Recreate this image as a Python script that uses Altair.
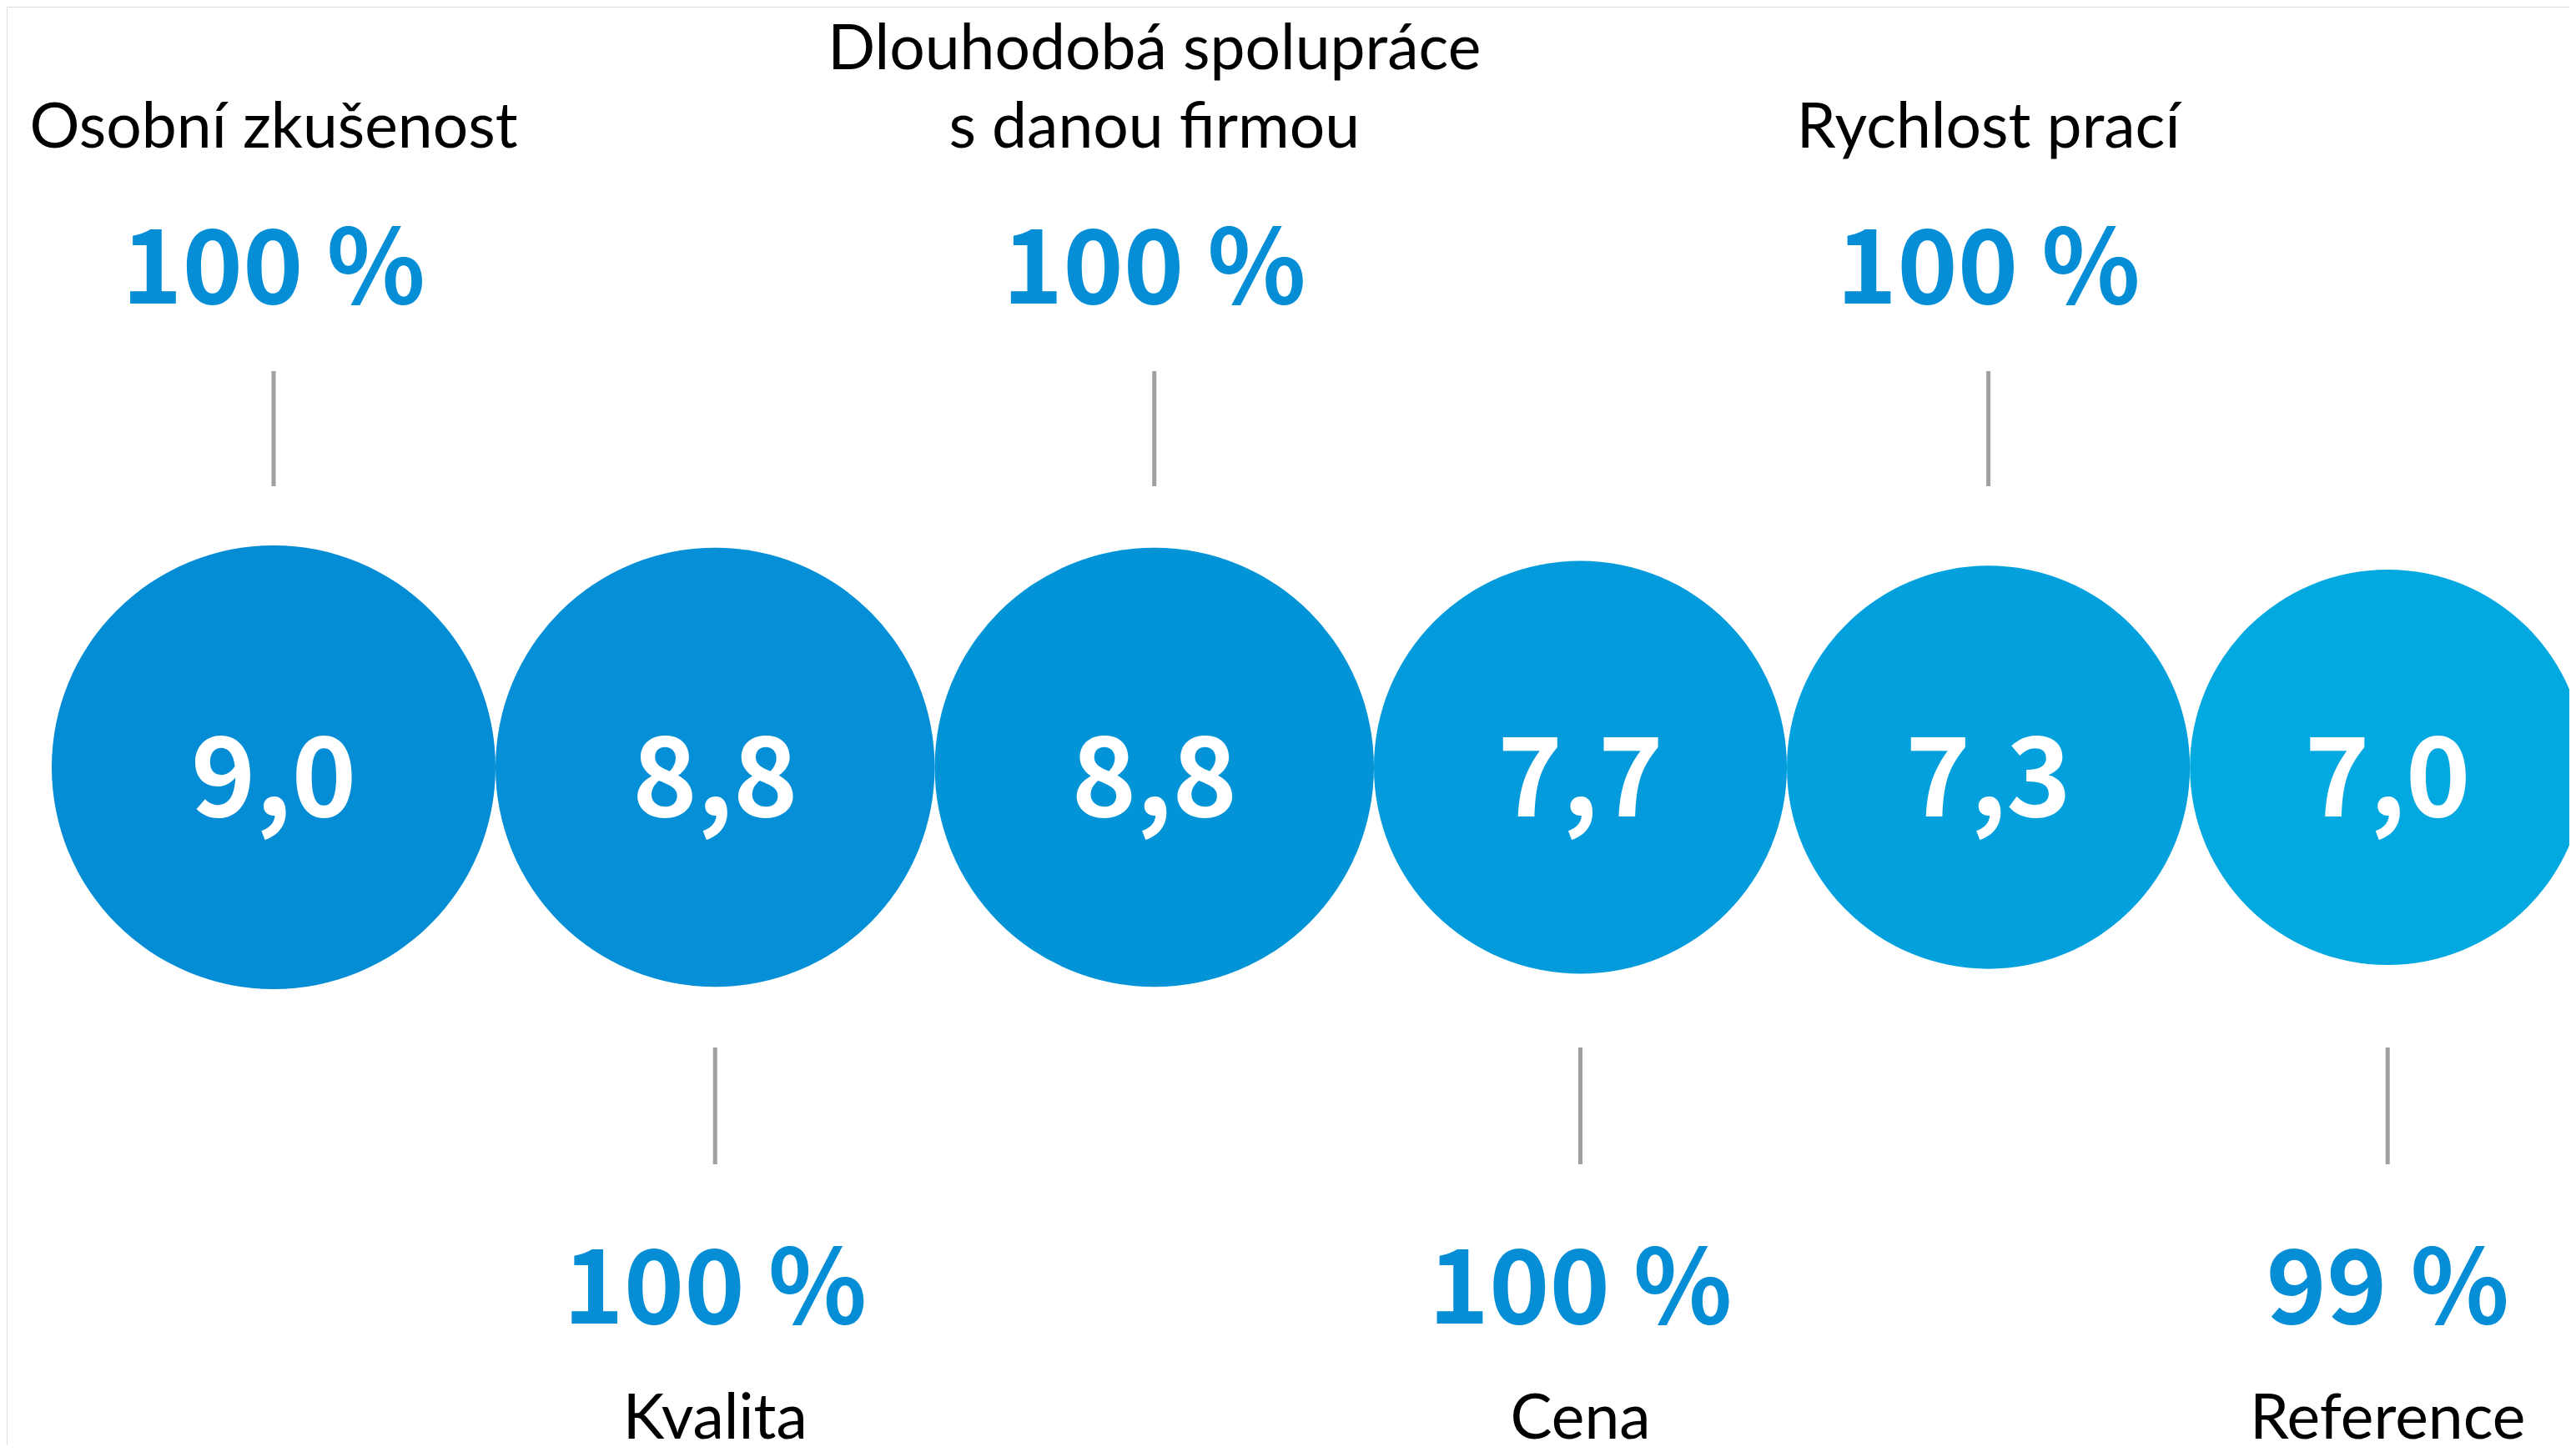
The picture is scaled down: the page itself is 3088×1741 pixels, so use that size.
import math
import unicodedata
import altair as alt
import pandas as pd

# ---- data ----
categories = [
    "Osobní zkušenost",
    "Kvalita",
    "Dlouhodobá spolupráce\ns danou firmou",
    "Cena",
    "Rychlost prací",
    "Reference",
]
categories = [unicodedata.normalize("NFC", c) for c in categories]
scores = [9.0, 8.8, 8.8, 7.7, 7.3, 7.0]
percents = [100, 100, 100, 100, 100, 99]
sides = ["top", "bottom", "top", "bottom", "top", "bottom"]
colors = ["#048CD5", "#048FD6", "#0394D8", "#039BDB", "#02A1DE", "#02A8E0"]

# ---- size scale (Vega symbol size = (2r)^2) ----
SIZE_DOMAIN = [7.0, 9.0]
R_RANGE = [237, 266]
SIZE_RANGE = [(2 * R_RANGE[0]) ** 2, (2 * R_RANGE[1]) ** 2]


def radius(v):
    a = SIZE_RANGE[0] + (v - SIZE_DOMAIN[0]) / (SIZE_DOMAIN[1] - SIZE_DOMAIN[0]) * (SIZE_RANGE[1] - SIZE_RANGE[0])
    return math.sqrt(a) / 2


# tangent packing of the circles along x
LEFT = 54
pos = []
edge = LEFT
for v in scores:
    r = radius(v)
    pos.append(edge + r)
    edge += 2 * r

df = pd.DataFrame({
    "cat": categories,
    "score": scores,
    "pct": percents,
    "side": sides,
    "pos": pos,
})
df["score_lbl"] = [f"{v:.1f}".replace(".", ",") for v in scores]
df["pct_lbl"] = [f"{p} %" for p in percents]

W, H = 3072, 1725
NUM_FONT = "Noto Sans CJK SC"
LABEL_FONT = "Lato"
PCT_COLOR = "#058DD6"
TICK_COLOR = "#A0A0A0"
LABEL_SIZE = 75
LINE_H = 94

x = alt.X("pos:Q", scale=alt.Scale(domain=[0, W], range=[0, W]), axis=None)

base = alt.Chart(df)

circles = base.mark_circle(opacity=1).encode(
    x=x,
    y=alt.value(912),
    size=alt.Size("score:Q", scale=alt.Scale(type="linear", domain=SIZE_DOMAIN, range=SIZE_RANGE), legend=None),
    color=alt.Color("cat:N", scale=alt.Scale(domain=categories, range=colors), legend=None),
)

values = base.mark_text(font=NUM_FONT, fontSize=132, fontWeight="bold", color="white",
                        align="center", baseline="alphabetic").encode(
    x=x, y=alt.value(971), text="score_lbl:N")

top = base.transform_filter(alt.datum.side == "top")
bottom = base.transform_filter(alt.datum.side == "bottom")

top_labels = top.transform_calculate(
    ly=f"169 - (length(split(datum.cat, '\\n')) - 1) * {LINE_H}"
).mark_text(font=LABEL_FONT, fontSize=LABEL_SIZE, color="#000000", align="center",
            baseline="alphabetic", lineBreak="\n", lineHeight=LINE_H).encode(
    x=x, y=alt.Y("ly:Q", scale=None, axis=None), text="cat:N")
top_pct = top.mark_text(font=NUM_FONT, fontSize=123, fontWeight="bold", color=PCT_COLOR,
                        align="center", baseline="alphabetic").encode(
    x=x, y=alt.value(356), text="pct_lbl:N")
top_tick = top.mark_rule(color=TICK_COLOR, strokeWidth=5).encode(
    x=x, y=alt.value(437), y2=alt.value(575))

bottom_tick = bottom.mark_rule(color=TICK_COLOR, strokeWidth=5).encode(
    x=x, y=alt.value(1248), y2=alt.value(1388))
bottom_pct = bottom.mark_text(font=NUM_FONT, fontSize=123, fontWeight="bold", color=PCT_COLOR,
                              align="center", baseline="alphabetic").encode(
    x=x, y=alt.value(1579), text="pct_lbl:N")
bottom_labels = bottom.mark_text(font=LABEL_FONT, fontSize=LABEL_SIZE, color="#000000", align="center",
                                 baseline="alphabetic").encode(
    x=x, y=alt.value(1717), text="cat:N")

chart = alt.layer(
    circles, values, top_labels, top_pct, top_tick, bottom_tick, bottom_pct, bottom_labels
).properties(
    width=W, height=H,
    autosize=alt.AutoSizeParams(type="none"),
    padding=0,
).configure_view(strokeWidth=0, stroke="transparent").configure(background="white")

chart.save("out.html", embed_options={"renderer": "svg", "actions": False})
